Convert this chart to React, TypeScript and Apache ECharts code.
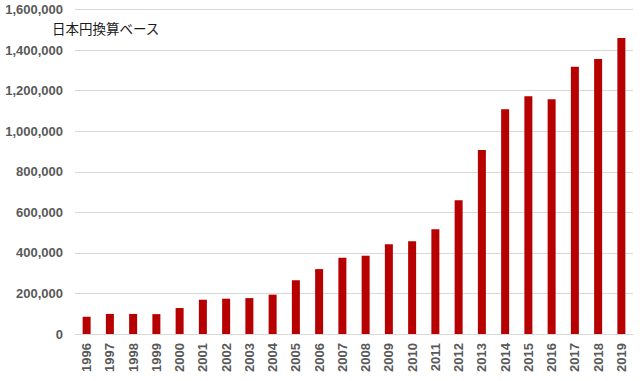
import React, { useEffect, useRef } from "react";
import * as echarts from "echarts";

const years = ["1996","1997","1998","1999","2000","2001","2002","2003","2004","2005","2006","2007","2008","2009","2010","2011","2012","2013","2014","2015","2016","2017","2018","2019"];
const values = [85000, 99000, 99000, 98000, 128000, 169000, 174000, 177000, 194000, 265000, 320000, 376000, 386000, 442000, 457000, 517000, 659000, 907000, 1108000, 1172000, 1158000, 1318000, 1356000, 1459000];
const noteText = "日本円換算ベース";

export default function App() {
  const ref = useRef<HTMLDivElement>(null);
  useEffect(() => {
    const chart = echarts.init(ref.current!, null, { renderer: "svg" });
    chart.setOption({
      animation: false,
      backgroundColor: "#ffffff",
      grid: { left: 75, right: 7, top: 9.5, bottom: 47, containLabel: false },
      graphic: [
        {
          type: "text",
          left: 52,
          top: 21,
          style: {
            text: noteText,
            font: "13.5px 'Noto Sans CJK JP', sans-serif",
            fill: "#1a1a1a",
          },
        },
      ],
      xAxis: {
        type: "category",
        data: years,
        axisLine: { show: true, lineStyle: { color: "#d9d9d9" } },
        axisTick: { show: false },
        axisLabel: {
          rotate: 90,
          interval: 0,
          margin: 9,
          color: "#595959",
          fontWeight: "bold",
          fontSize: 13,
          fontFamily: "'Liberation Sans', Arial, sans-serif",
        },
      },
      yAxis: {
        type: "value",
        min: 0,
        max: 1600000,
        interval: 200000,
        axisLine: { show: false },
        axisTick: { show: false },
        splitLine: { lineStyle: { color: "#d9d9d9" } },
        axisLabel: {
          margin: 12,
          color: "#595959",
          fontWeight: "bold",
          fontSize: 13,
          fontFamily: "'Liberation Sans', Arial, sans-serif",
          formatter: (v: number) => v.toLocaleString("en-US"),
        },
      },
      series: [
        {
          type: "bar",
          data: values,
          barWidth: 8,
          itemStyle: { color: "#b70000" },
        },
      ],
    });
    return () => chart.dispose();
  }, []);
  return <div ref={ref} style={{ width: 640, height: 381, position: "absolute", left: 0, top: 0 }} />;
}
